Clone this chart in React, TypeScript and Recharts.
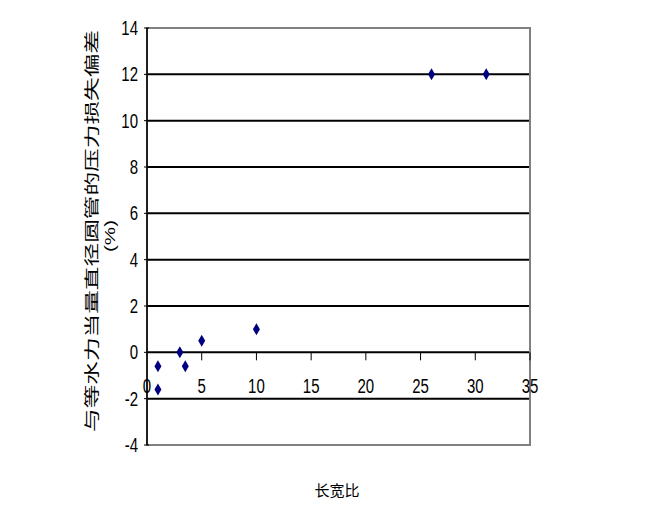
import { ScatterChart, Scatter, XAxis, YAxis, CartesianGrid, ReferenceArea } from "recharts";

const aspectRatios = [1, 1, 3, 3.5, 5, 10, 26, 31];
const deviations = [-0.6, -1.6, 0, -0.6, 0.5, 1, 12, 12];
const xTicks = [0, 5, 10, 15, 20, 25, 30, 35];
const yTicks = [-4, -2, 0, 2, 4, 6, 8, 10, 12, 14];
const gridValues = [-2, 0, 2, 4, 6, 8, 10, 12];
const yTitle = "与等水力当量直径圆管的压力损失偏差";
const yUnit = "(%)";
const xTitle = "长宽比";

const points = aspectRatios.map((x, i) => ({ x, y: deviations[i] }));

const W = 671;
const H = 517;
const margin = { top: 28, right: 141, bottom: 42, left: 87 };
const yAxisW = 60;
const xAxisH = 30;
const plotTop = margin.top;
const plotH = H - margin.top - margin.bottom - xAxisH;
const zeroY = plotTop + (14 / 18) * plotH;

const numFont = "'Liberation Sans Narrow', 'Arial Narrow', 'Liberation Sans', sans-serif";
const cjkFont = "'Noto Sans CJK SC', sans-serif";

function XTick(props: any) {
  const { x, payload } = props;
  return (
    <g>
      {payload.value !== 0 && (
        <line x1={x} x2={x} y1={zeroY} y2={zeroY + 8} stroke="#000" strokeWidth={1} />
      )}
      <text
        transform={`translate(${x}, ${zeroY + 41}) scale(1, 1.35)`}
        textAnchor="middle"
        fontSize={15}
        fontFamily={numFont}
        fill="#000"
      >
        {payload.value}
      </text>
    </g>
  );
}

function YTick(props: any) {
  const { x, y, payload } = props;
  return (
    <g>
      <line x1={x + 5} x2={x + 10} y1={y} y2={y} stroke="#000" />
      <text
        transform={`translate(${x - 1}, ${y + 7}) scale(1, 1.35)`}
        textAnchor="end"
        fontSize={15}
        fontFamily={numFont}
        fill="#000"
      >
        {payload.value}
      </text>
    </g>
  );
}

function Diamond(props: any) {
  const { cx, cy } = props;
  return (
    <polygon
      points={`${cx},${cy - 6} ${cx + 3.5},${cy} ${cx},${cy + 6} ${cx - 3.5},${cy}`}
      fill="#000080"
    />
  );
}

const YLabel = () => (
  <g>
    <text
      transform="translate(97, 231) rotate(-90)"
      textAnchor="middle"
      fontSize={15}
      fontFamily={cjkFont}
      textLength={402}
      lengthAdjust="spacingAndGlyphs"
      fill="#000"
    >
      {yTitle}
    </text>
    <text
      transform="translate(115, 236) rotate(-90)"
      textAnchor="middle"
      fontSize={15}
      fontFamily={numFont}
      textLength={32}
      lengthAdjust="spacingAndGlyphs"
      fill="#000"
    >
      {yUnit}
    </text>
  </g>
);

const XLabel = () => (
  <text x={337} y={496} textAnchor="middle" fontSize={15} fontFamily={cjkFont} fill="#000">
    {xTitle}
  </text>
);

export default function App() {
  return (
    <div style={{ position: "absolute", left: 0, top: 0, background: "#fff" }}>
      <ScatterChart width={W} height={H} margin={margin}>
        <CartesianGrid
          vertical={false}
          horizontalValues={gridValues}
          stroke="#000"
          strokeWidth={2}
        />
        <ReferenceArea
          x1={0}
          x2={35}
          y1={-4}
          y2={14}
          fill="none"
          stroke="#808080"
          strokeWidth={2}
          ifOverflow="visible"
        />
        <XAxis
          type="number"
          dataKey="x"
          domain={[0, 35]}
          ticks={xTicks}
          height={xAxisH}
          axisLine={false}
          tickLine={false}
          tick={<XTick />}
          interval={0}
          label={{ content: () => <XLabel /> }}
        />
        <YAxis
          type="number"
          dataKey="y"
          domain={[-4, 14]}
          ticks={yTicks}
          width={yAxisW}
          axisLine={{ stroke: "#000", strokeWidth: 1.5 }}
          tickLine={false}
          tick={<YTick />}
          interval={0}
          label={{ content: () => <YLabel /> }}
        />
        <Scatter data={points} shape={<Diamond />} isAnimationActive={false} />
      </ScatterChart>
    </div>
  );
}
